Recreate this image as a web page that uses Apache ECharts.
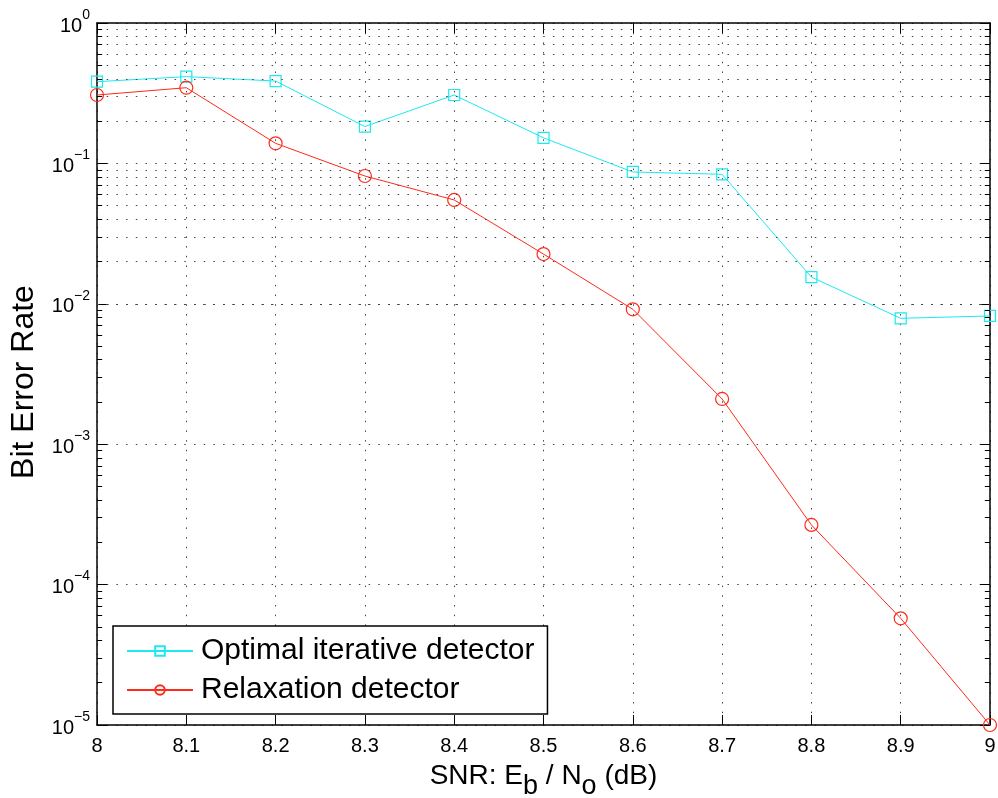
<!DOCTYPE html>
<html>
<head>
<meta charset="utf-8">
<script src="https://cdn.jsdelivr.net/npm/echarts@6/dist/echarts.min.js"></script>
<style>
  html, body { margin: 0; padding: 0; background: #fff; }
  #chart { width: 998px; height: 798px; }
</style>
</head>
<body>
<div id="chart"></div>
<script>
const snr = [8, 8.1, 8.2, 8.3, 8.4, 8.5, 8.6, 8.7, 8.8, 8.9, 9];
const optimalBer = [0.382, 0.415, 0.386, 0.183, 0.307, 0.152, 0.0869, 0.0836, 0.0155, 0.00788, 0.00819];
const relaxBer = [0.307, 0.346, 0.139, 0.0813, 0.0549, 0.0226, 0.00914, 0.0021, 0.000266, 0.0000575, 0.00001];
const decades = [-5, -4, -3, -2, -1, 0];
const minorSteps = [2, 3, 4, 5, 6, 7, 8, 9];

const FONT = '"Liberation Sans", Arial, Helvetica, sans-serif';
const cyan = '#1ee8f0';
const red = '#ff2a1a';

// minor grid values 2..9 x 10^k
const minorVals = [];
decades.slice(0, -1).forEach(e => {
  minorSteps.forEach(m => minorVals.push(m * Math.pow(10, e)));
});

const gridLineStyle = { color: '#444', width: 1, type: [1.5, 8.2] };

const markData = [];
minorVals.forEach(v => markData.push({ yAxis: v, lineStyle: gridLineStyle }));
// minor ticks on left and right borders
const tickLen = 0.0058;
minorVals.forEach(v => {
  markData.push([{ coord: [8, v], lineStyle: { color: '#000', width: 1, type: 'solid' } }, { coord: [8 + tickLen, v] }]);
  markData.push([{ coord: [9 - tickLen, v], lineStyle: { color: '#000', width: 1, type: 'solid' } }, { coord: [9, v] }]);
});

const supLabel = v => {
  const e = Math.round(Math.log10(v));
  return '{b|10}{s|' + (e < 0 ? '\u2212' + (-e) : e) + '}';
};

const chart = echarts.init(document.getElementById('chart'), null, { renderer: 'canvas' });

chart.setOption({
  animation: false,
  backgroundColor: '#fff',
  textStyle: { fontFamily: FONT },
  grid: { left: 97, right: 8, top: 23, bottom: 73, outerBoundsMode: 'none', containLabel: false },
  legend: {
    left: 113,
    top: 626,
    orient: 'vertical',
    backgroundColor: '#fff',
    borderColor: '#000',
    borderWidth: 1.5,
    borderRadius: 0,
    padding: [7, 13, 6, 13],
    itemWidth: 66,
    itemHeight: 12,
    itemGap: 3,
    textStyle: { fontFamily: FONT, fontSize: 30, color: '#000', lineHeight: 36, padding: [0, 0, 0, 3] },
    data: ['Optimal iterative detector', 'Relaxation detector']
  },
  xAxis: [{
    type: 'value',
    min: 8, max: 9, interval: 0.1,
    name: 'SNR: E{sub|b} / N{sub|o} (dB)',
    nameLocation: 'middle',
    nameGap: 30,
    nameTextStyle: {
      fontFamily: FONT, fontSize: 28, color: '#000', lineHeight: 30,
      rich: { sub: { fontFamily: FONT, fontSize: 27, color: '#000', padding: [22, 0, 0, 0] } }
    },
    axisLine: { lineStyle: { color: '#000', width: 1.5 } },
    axisTick: { inside: true, length: 10, lineStyle: { color: '#000' } },
    axisLabel: {
      fontFamily: FONT, fontSize: 20, color: '#000', margin: 11,
      formatter: v => String(Math.round(v * 10) / 10)
    },
    splitLine: { show: true, lineStyle: gridLineStyle }
  }, {
    type: 'value', position: 'top',
    min: 8, max: 9, interval: 0.1,
    axisLine: { lineStyle: { color: '#000', width: 1.5 } },
    axisTick: { inside: true, length: 10, lineStyle: { color: '#000' } },
    axisLabel: { show: false },
    splitLine: { show: false }
  }],
  yAxis: [{
    type: 'log', logBase: 10,
    min: 1e-5, max: 1,
    name: 'Bit Error Rate',
    nameLocation: 'middle',
    nameGap: 57,
    nameTextStyle: { fontFamily: FONT, fontSize: 32, color: '#000', padding: [0, 16, 0, 0] },
    axisLine: { lineStyle: { color: '#000', width: 1.5 } },
    axisTick: { inside: true, length: 10, lineStyle: { color: '#000' } },
    axisLabel: {
      color: '#000', margin: 7,
      formatter: supLabel,
      rich: {
        b: { fontFamily: FONT, fontSize: 20, color: '#000', lineHeight: 30, padding: [6, 0, 0, 0] },
        s: { fontFamily: FONT, fontSize: 14, color: '#000', verticalAlign: 'top', lineHeight: 14 }
      }
    },
    splitLine: { show: true, lineStyle: gridLineStyle }
  }, {
    type: 'log', logBase: 10, position: 'right',
    min: 1e-5, max: 1,
    axisLine: { lineStyle: { color: '#000', width: 1.5 } },
    axisTick: { inside: true, length: 10, lineStyle: { color: '#000' } },
    axisLabel: { show: false },
    splitLine: { show: false }
  }],
  series: [{
    name: 'grid',
    type: 'line',
    data: [],
    silent: true,
    z: 1,
    markLine: {
      silent: true,
      symbol: ['none', 'none'],
      label: { show: false },
      animation: false,
      data: markData
    }
  }, {
    name: 'Optimal iterative detector',
    type: 'line',
    z: 3,
    data: snr.map((x, i) => [x, optimalBer[i]]),
    symbol: 'rect',
    symbolSize: 11,
    lineStyle: { color: cyan, width: 1 },
    itemStyle: { color: 'rgba(0,0,0,0)', borderColor: cyan, borderWidth: 1.2 }
  }, {
    name: 'Relaxation detector',
    type: 'line',
    z: 3,
    data: snr.map((x, i) => [x, relaxBer[i]]),
    symbol: 'circle',
    symbolSize: 13,
    lineStyle: { color: red, width: 1 },
    itemStyle: { color: 'rgba(0,0,0,0)', borderColor: red, borderWidth: 1.2 }
  }]
});
</script>
</body>
</html>
